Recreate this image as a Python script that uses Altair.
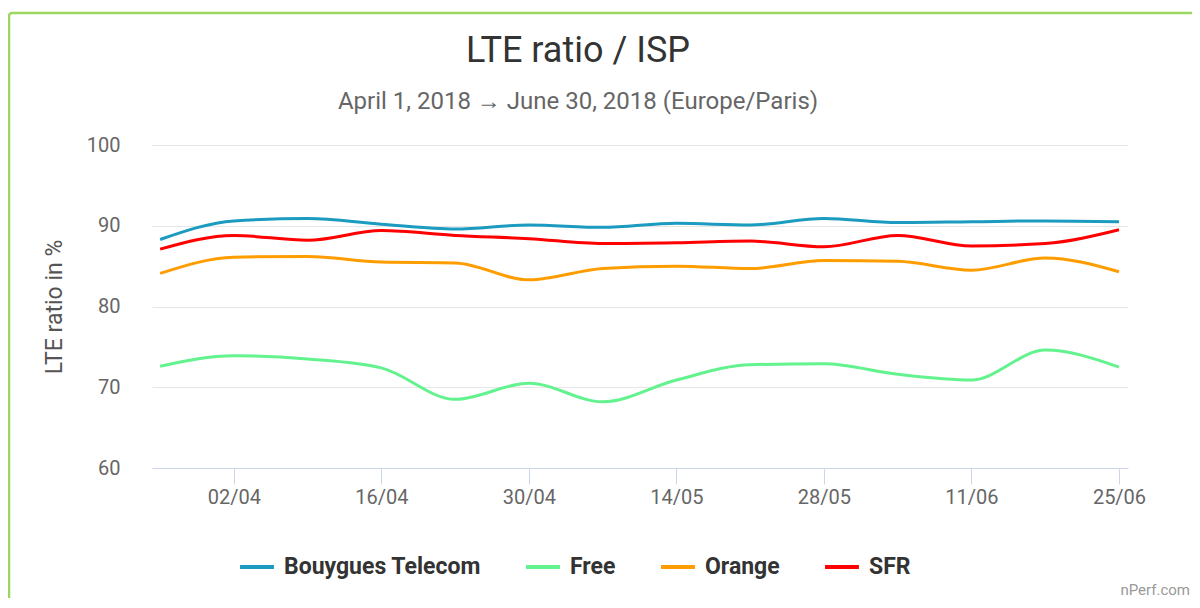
import altair as alt
import pandas as pd

dates = ["2018-03-26", "2018-04-02", "2018-04-09", "2018-04-16", "2018-04-23",
         "2018-04-30", "2018-05-07", "2018-05-14", "2018-05-21", "2018-05-28",
         "2018-06-04", "2018-06-11", "2018-06-18", "2018-06-25"]
isps = ["Bouygues Telecom", "Free", "Orange", "SFR"]
bouygues = [88.3, 90.6, 90.9, 90.2, 89.6, 90.1, 89.8, 90.3, 90.1, 90.9, 90.4, 90.5, 90.6, 90.5]
free = [72.6, 73.9, 73.5, 72.4, 68.5, 70.5, 68.2, 70.9, 72.8, 72.9, 71.6, 70.9, 74.6, 72.5]
orange = [84.1, 86.1, 86.2, 85.5, 85.4, 83.3, 84.7, 85.0, 84.7, 85.7, 85.6, 84.5, 86.0, 84.3]
sfr = [87.1, 88.8, 88.2, 89.4, 88.8, 88.4, 87.8, 87.9, 88.1, 87.4, 88.8, 87.5, 87.8, 89.5]
colors = ["#1a9bbf", "#62f28e", "#ff9d00", "#ff0000"]
tick_dates = ["2018-04-02", "2018-04-16", "2018-04-30", "2018-05-14",
              "2018-05-28", "2018-06-11", "2018-06-25"]
title_text = "LTE ratio / ISP"
subtitle_text = "April 1, 2018 \u2192 June 30, 2018 (Europe/Paris)"
credit_text = "nPerf.com"

rows = []
for name, vals in zip(isps, [bouygues, free, orange, sfr]):
    for d, v in zip(dates, vals):
        rows.append({"date": d, "isp": name, "value": v})
df = pd.DataFrame(rows)

def dt(s, h=0, m=0):
    y, mo, d = map(int, s.split("-"))
    return alt.DateTime(year=y, month=mo, date=d, hours=h, minutes=m, utc=True)

FONT = "Roboto"

lines = alt.Chart(df).mark_line(interpolate="monotone", strokeWidth=3).encode(
    x=alt.X("date:T",
            scale=alt.Scale(type="utc", domain=[dt("2018-03-25", 5, 30), dt("2018-06-25", 20, 30)], nice=False),
            axis=alt.Axis(title=None, labelExpr="utcFormat(datum.value, '%d/%m')",
                          values=[dt(t) for t in tick_dates],
                          grid=False, domainColor="#ccd6eb", domainWidth=1,
                          tickColor="#ccd6eb", tickSize=16, tickWidth=1,
                          labelFont=FONT, labelFontSize=20, labelColor="#666666",
                          labelPadding=3)),
    y=alt.Y("value:Q",
            scale=alt.Scale(domain=[60, 100], nice=False),
            axis=alt.Axis(title="LTE ratio in %", values=[60, 70, 80, 90, 100],
                          domain=False, ticks=False, gridColor="#e6e6e6",
                          labelFont=FONT, labelFontSize=20, labelColor="#666666",
                          labelPadding=32,
                          titleFont=FONT, titleFontSize=23, titleFontWeight="normal",
                          titleColor="#555555", titlePadding=20)),
    color=alt.Color("isp:N", scale=alt.Scale(domain=isps, range=colors),
                    legend=alt.Legend(title=None, orient="none", legendX=86, legendY=403,
                                      direction="horizontal", symbolType="stroke",
                                      symbolSize=1150, symbolStrokeWidth=4,
                                      labelFont=FONT, labelFontSize=23, labelFontWeight="bold",
                                      labelColor="#333333", labelOffset=8, labelLimit=400,
                                      columnPadding=37)),
)

title = alt.Chart(pd.DataFrame({"t": [title_text]})).mark_text(
    align="center", baseline="alphabetic", font=FONT, fontSize=36, color="#333333"
).encode(text="t:N", x=alt.value(426), y=alt.value(-83))

subtitle = alt.Chart(pd.DataFrame({"t": [subtitle_text]})).mark_text(
    align="center", baseline="alphabetic", font=FONT, fontSize=24, color="#666666"
).encode(text="t:N", x=alt.value(426), y=alt.value(-36))

credit = alt.Chart(pd.DataFrame({"t": [credit_text]})).mark_text(
    align="right", baseline="alphabetic", font=FONT, fontSize=15, color="#999999"
).encode(text="t:N", x=alt.value(1038), y=alt.value(450))

border = alt.Chart(pd.DataFrame({"a": [0]})).mark_rect(
    fill=None, fillOpacity=0, stroke="#9bd65e", strokeWidth=2.5, cornerRadius=3
).encode(x=alt.value(-143), y=alt.value(-132), x2=alt.value(1200), y2=alt.value(600))

chart = alt.layer(border, lines, title, subtitle, credit).properties(
    width=976, height=323,
    autosize=alt.AutoSizeParams(type="none"),
    padding={"left": 144, "top": 137, "right": 64, "bottom": 130},
).configure_view(stroke=None)

chart.save("out.html", embed_options={"renderer": "svg", "actions": False})
